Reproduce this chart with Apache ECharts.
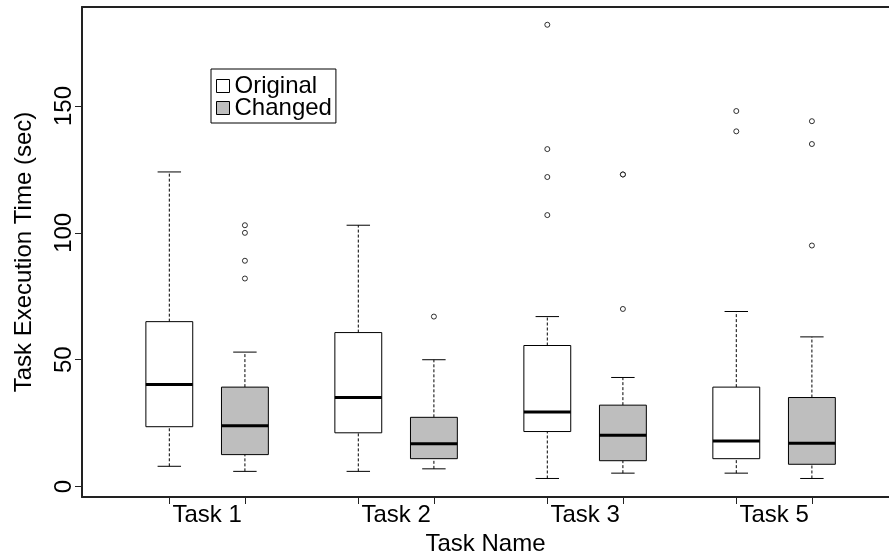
<!DOCTYPE html>
<html>
<head>
<meta charset="utf-8">
<script src="https://cdn.jsdelivr.net/npm/echarts@6/dist/echarts.min.js"></script>
<style>
  html, body { margin: 0; padding: 0; background: #fff; }
  #chart { width: 889px; height: 553px; }
</style>
</head>
<body>
<div id="chart"></div>
<script>
// tasks and where each box sits on the x scale
const categories = ["Task 1", "Task 2", "Task 3", "Task 5"];
const originalPos = [1, 3.5, 6, 8.5];
const changedPos = [2, 4.5, 7, 9.5];
const labelPos = [1.5, 4, 6.5, 9];
const yTicks = [0, 50, 100, 150];

// [lower whisker, Q1, median, Q3, upper whisker]
const originalStats = [
  [8, 23.6, 40.2, 65, 124],
  [6, 21.2, 35.1, 60.7, 103],
  [3.2, 21.7, 29.4, 55.6, 67],
  [5.3, 11, 18, 39.2, 69]
];
const changedStats = [
  [6, 12.6, 24, 39.2, 53],
  [7, 11, 16.9, 27.3, 50],
  [5.3, 10.2, 20.2, 32.1, 43],
  [3.2, 8.8, 17.1, 35.1, 59]
];

// outliers per task
const originalOutliers = [[], [], [182, 133, 122, 107], [148, 140]];
const changedOutliers = [[103, 100, 89, 82], [67], [123, 123, 70], [144, 135, 95]];

const font = "'Liberation Sans', Arial, sans-serif";
const fs = 24;
const xMin = -0.155, xMax = 10.52;

function boxData(pos, stats) {
  return stats.map((s, i) => [pos[i]].concat(s));
}
function outlierData(pos, outs) {
  const res = [];
  outs.forEach((list, i) => list.forEach((v) => res.push([pos[i], v])));
  return res;
}

const boxHalf = 0.31;
const capHalf = 0.155;

function renderBox(fill) {
  return function (params, api) {
    const x = api.value(0);
    const lo = api.coord([x, api.value(1)]);
    const q1 = api.coord([x, api.value(2)]);
    const med = api.coord([x, api.value(3)]);
    const q3 = api.coord([x, api.value(4)]);
    const hi = api.coord([x, api.value(5)]);
    const left = api.coord([x - boxHalf, 0])[0];
    const right = api.coord([x + boxHalf, 0])[0];
    const cl = api.coord([x - capHalf, 0])[0];
    const cr = api.coord([x + capHalf, 0])[0];
    const cx = lo[0];
    const solid = { stroke: "#000", lineWidth: 1 };
    const dashed = { stroke: "#000", lineWidth: 1, lineDash: [3, 2] };
    return {
      type: "group",
      children: [
        { type: "line", shape: { x1: cx, y1: q3[1], x2: cx, y2: hi[1] }, style: dashed },
        { type: "line", shape: { x1: cx, y1: lo[1], x2: cx, y2: q1[1] }, style: dashed },
        { type: "line", shape: { x1: cl, y1: hi[1], x2: cr, y2: hi[1] }, style: solid },
        { type: "line", shape: { x1: cl, y1: lo[1], x2: cr, y2: lo[1] }, style: solid },
        {
          type: "rect",
          shape: { x: left, y: q3[1], width: right - left, height: q1[1] - q3[1] },
          style: { fill: fill, stroke: "#000", lineWidth: 1 }
        },
        { type: "line", shape: { x1: left, y1: med[1], x2: right, y2: med[1] }, style: { stroke: "#000", lineWidth: 3 } }
      ]
    };
  };
}

const frameLine = { show: true, onZero: false, lineStyle: { color: "#222", width: 2 } };

const chart = echarts.init(document.getElementById("chart"));
const option = {
  animation: false,
  backgroundColor: "#fff",
  textStyle: { fontFamily: font },
  grid: { left: 82, right: 0, top: 7, bottom: 56, containLabel: false, outerBoundsMode: "none" },
  legend: {
    orient: "vertical",
    left: 211,
    top: 69,
    padding: [5, 4, 3, 5],
    itemGap: -2,
    itemWidth: 13,
    itemHeight: 13,
    icon: "rect",
    selectedMode: false,
    borderColor: "#000",
    borderWidth: 1,
    textStyle: { fontSize: fs, color: "#000", fontFamily: font },
    data: [
      { name: "Original", itemStyle: { color: "#fff", borderColor: "#000", borderWidth: 1 } },
      { name: "Changed", itemStyle: { color: "#bebebe", borderColor: "#000", borderWidth: 1 } }
    ]
  },
  xAxis: [
    {
      type: "value",
      min: xMin,
      max: xMax,
      position: "bottom",
      name: "Task Name",
      nameLocation: "middle",
      nameGap: 35,
      nameTextStyle: { fontSize: fs, color: "#000", fontFamily: font },
      axisLine: frameLine,
      splitLine: { show: false },
      axisTick: {
        show: true,
        length: 7,
        lineStyle: { color: "#222", width: 1 },
        customValues: originalPos.concat(changedPos)
      },
      axisLabel: { show: false }
    },
    {
      type: "value",
      min: xMin,
      max: xMax,
      position: "bottom",
      axisLine: { show: false, onZero: false },
      axisTick: { show: false },
      splitLine: { show: false },
      axisLabel: {
        show: true,
        customValues: labelPos,
        margin: 6,
        fontSize: fs,
        color: "#000",
        fontFamily: font,
        formatter: (v) => categories[labelPos.indexOf(v)] || ""
      }
    },
    {
      type: "value",
      min: xMin,
      max: xMax,
      position: "top",
      axisLine: frameLine,
      axisTick: { show: false },
      axisLabel: { show: false },
      splitLine: { show: false }
    }
  ],
  yAxis: {
    type: "value",
    min: -4.1,
    max: 189,
    name: "Task Execution Time (sec)",
    nameLocation: "middle",
    nameGap: 46,
    nameTextStyle: { fontSize: fs, color: "#000", fontFamily: font },
    axisLine: frameLine,
    splitLine: { show: false },
    axisTick: {
      show: true,
      length: 7,
      lineStyle: { color: "#222", width: 1 },
      customValues: yTicks
    },
    axisLabel: {
      customValues: yTicks,
      rotate: 90,
      margin: 6,
      fontSize: fs,
      color: "#000",
      fontFamily: font
    }
  },
  series: [
    {
      name: "Original",
      type: "custom",
      xAxisIndex: 0,
      encode: { x: 0, y: [1, 2, 3, 4, 5] },
      renderItem: renderBox("#fff"),
      data: boxData(originalPos, originalStats)
    },
    {
      name: "Changed",
      type: "custom",
      xAxisIndex: 0,
      encode: { x: 0, y: [1, 2, 3, 4, 5] },
      renderItem: renderBox("#bebebe"),
      data: boxData(changedPos, changedStats)
    },
    {
      name: "Original outliers",
      type: "scatter",
      xAxisIndex: 0,
      symbol: "circle",
      symbolSize: 5,
      itemStyle: { color: "#fff", borderColor: "#000", borderWidth: 1 },
      data: outlierData(originalPos, originalOutliers)
    },
    {
      name: "Changed outliers",
      type: "scatter",
      xAxisIndex: 0,
      symbol: "circle",
      symbolSize: 5,
      itemStyle: { color: "#fff", borderColor: "#000", borderWidth: 1 },
      data: outlierData(changedPos, changedOutliers)
    }
  ]
};
chart.setOption(option);
</script>
</body>
</html>
